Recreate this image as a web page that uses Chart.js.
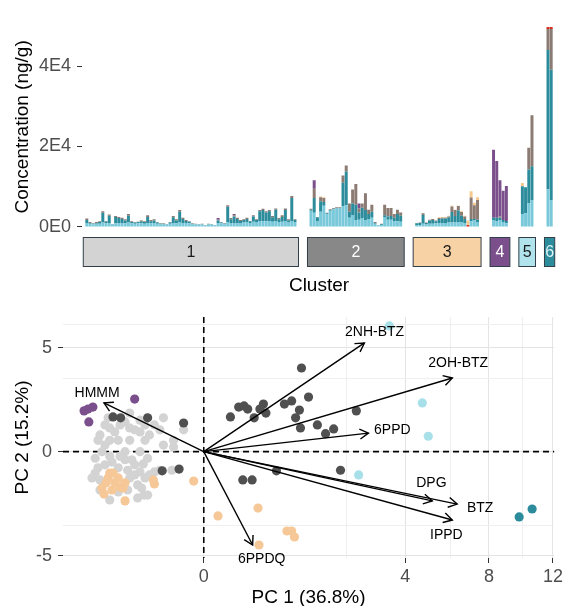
<!DOCTYPE html>
<html>
<head>
<meta charset="utf-8">
<script src="https://cdn.jsdelivr.net/npm/chart.js@4.4.1/dist/chart.umd.min.js"></script>
<style>
  body { margin: 0; background: #fff; }
  #wrap { position: relative; width: 566px; height: 606px; }
  canvas { position: absolute; left: 0; }
  #bars { top: 0; }
  #pca { top: 300px; }
</style>
</head>
<body>
<div id="wrap">
  <canvas id="bars" width="566" height="300"></canvas>
  <canvas id="pca" width="566" height="306"></canvas>
</div>
<script>
// ---- top panel: concentration per sample, stacked by compound group ----
const clusterNames = ['1', '2', '3', '4', '5', '6'];
const clusterSizes = [66, 29, 20, 5, 4, 2];

// ng/g, samples in cluster order (66 | 29 | 20 | 5 | 4 | 2)
const groupA = [
  1000,800,700,800,800,1100,900,1000,500,900, 1000,1000,900,1100,900,800,900,900,800,1000,
  900,1000,800,700,600,500,800,1000,900,1200, 1000,1000,900,700,600,500,600,300,600,500,
  300,1000,900,700,1200,1000,1000,1000,1000,1100, 1200,1000,1300,1200,1500,1500,1400,1500,1300,1500,
  1200,1300,1500,1100,1500,1200,
  4000,3500,1500,3800,5300,3200,4000,4400,4600,4600, 5200,5400,2300,3000,1700,1800,2200,1600,2000,2300,
  800,400,500,2500,1800,1800,1500,1400,1300,
  500,500,800,600,800,800,900,1000,1000,1000, 1100,1100,1100,1200,1100,1000,0,1400,1600,1200,
  1600,1500,1700,1200,900,
  3200,3400,5800,6600,
  9400,6700
];
const groupB = [
  700,200,100,200,400,2400,400,1800,100,1600, 1200,1000,700,1700,300,300,300,500,400,1500,
  500,600,300,100,200,100,300,1400,700,2600, 1000,500,400,100,100,100,100,100,100,100,
  100,600,200,100,3800,900,1600,1000,500,600, 800,400,1300,500,2400,2700,2200,2400,1100,2800,
  700,1200,2700,500,5700,500,
  300,3700,900,2600,900,200,200,100,100,100, 5800,8400,1500,2800,3800,1800,2600,2600,1200,1500,
  200,100,200,400,800,900,800,1800,1500,
  400,500,2200,400,800,900,500,1000,1100,1100, 1300,2600,1600,2900,1700,1000,0,600,400,600,
  700,800,600,500,600,
  6900,6500,8500,8500,
  34600,32400
];
const groupC = [
  400,200,100,200,200,400,200,300,0,200, 300,300,300,400,200,100,100,200,200,400,
  300,300,100,100,100,0,100,300,300,400, 300,200,100,100,100,0,100,0,100,0,
  0,200,100,100,400,300,300,300,200,200, 300,100,300,200,300,300,300,300,300,300,
  300,400,400,300,500,200,
  200,2300,100,1000,1000,100,200,200,200,200, 1800,1500,2000,3500,5200,1000,1000,4200,1100,1700,
  200,0,100,2600,2100,2000,900,1100,800,
  100,100,400,100,200,300,200,200,200,200, 200,1400,1500,1100,900,600,0,5300,3400,4900,
  0,0,300,0,0,
  0,0,5400,12700,
  5200,10100
];
const groupD = [
  0,0,0,0,0,0,0,0,0,0, 0,0,0,0,0,0,0,0,0,0,
  0,0,0,0,0,0,0,0,0,0, 0,0,0,0,0,0,0,0,0,0,
  0,400,0,0,0,0,300,0,0,0, 0,0,0,0,0,0,0,0,0,0,
  0,0,0,0,0,0,
  0,2100,0,0,0,0,0,0,0,0, 0,0,0,0,0,1200,0,0,0,0,
  0,0,0,0,0,0,0,0,0,
  0,0,0,0,0,0,0,0,0,0, 0,0,0,0,0,0,0,0,0,0,
  16900,14100,9000,7300,8700,
  0,0,0,0,
  0,0
];
const groupE = [
  0,0,0,0,0,0,0,0,0,0, 0,0,0,0,0,0,0,0,0,0,
  0,0,0,0,0,0,0,0,0,0, 0,0,0,0,0,0,0,0,0,0,
  0,0,0,0,0,0,0,0,0,0, 0,0,0,0,0,0,0,0,0,0,
  0,0,0,0,0,0,
  0,0,0,0,0,0,0,0,0,0, 0,0,0,0,0,0,0,0,0,0,
  0,0,0,0,0,0,0,0,0,
  0,0,0,0,0,0,0,0,0,0, 0,0,0,0,0,0,500,0,0,0,
  0,0,0,0,0,
  0,0,0,0,
  500,500
];
const groupF = [
  0,0,0,0,0,0,0,0,0,0, 0,0,0,0,0,0,0,100,0,0,
  0,0,0,0,0,0,0,0,0,0, 0,0,0,0,0,0,0,0,0,0,
  0,0,0,0,0,0,0,0,0,0, 0,0,0,0,0,0,0,0,0,0,
  0,0,0,0,0,0,
  0,0,0,200,200,0,0,0,0,0, 0,0,0,0,0,0,0,0,0,0,
  0,0,0,0,0,0,0,0,0,
  0,0,0,0,0,0,0,200,200,200, 200,200,100,100,200,200,1100,1600,600,700,
  0,0,0,0,0,
  800,0,0,0,
  0,0
];
const topYTicks = [0, 20000, 40000];
const topYTickLabels = ['0E0', '2E4', '4E4'];

// ---- bottom panel: PCA scores and loadings ----
const scoresC1 = [[-0.16,0.53],[-0.04,0.22],[-0.96,0.33],[-0.87,0.26],[-0.78,0.18],[-0.69,0.33],[-0.61,0.41],
  [-0.54,0.26],[-0.47,0.22],[-0.40,0.18],[-0.34,0.06],[-0.29,0.13],[-0.54,0.06],[-0.72,0.06],[-1.06,0.13],
  [-1.10,0.06],[-0.96,0.02],[-0.87,0.06],[-0.40,0.46],[-0.09,0.06],[-0.19,0.22],[-0.24,0.33],[-1.02,0.00],
  [-0.87,-0.01],[-0.69,-0.01],[-0.61,0.00],[-0.40,0.00],[-0.31,-0.02],[-0.51,-0.03],[-1.10,-0.12],[-0.96,-0.08],
  [-0.83,-0.05],[-0.72,-0.12],[-0.61,-0.03],[-0.57,-0.16],[-0.47,-0.08],[-0.40,-0.19],[-0.34,-0.32],[-1.16,-0.21],
  [-1.23,-0.32],[-1.06,-0.37],[-0.54,-0.32],[-0.47,-0.25],[-0.43,-0.51],[-0.38,-0.61],[-0.29,-0.25],[-0.24,-0.19],
  [-0.19,-0.16],[-0.10,-0.16],[-1.06,-0.68],[-0.72,-0.75],[-0.57,-0.68],[-0.35,-0.87],[-0.87,-1.08],[-0.90,0.53],
  [-0.54,0.69],[-0.34,0.33],[-0.16,0.02],[-1.16,-0.02],[-0.31,-0.87],[-0.43,-0.99],[-0.09,0.01],[-0.36,-0.07]];
const scoresC2 = [[-0.81,0.56],[-0.68,0.53],[-0.31,0.53],[-0.04,0.38],[-0.17,-0.17],[-0.06,-0.14],[0.15,-0.37],
  [0.23,-0.37],[0.07,0.56],[0.12,0.92],[0.16,0.97],[0.31,0.84],[0.35,1.05],[0.38,0.69],[0.52,-0.17],[0.94,3.24],
  [0.76,1.19],[1.08,1.38],[0.90,0.80],[0.83,0.53],[0.92,0.26],[1.46,0.15],[1.66,0.24],[2.29,0.77],[1.84,-0.16],
  [0.25,0.53],[0.64,1.05],[1.27,0.33],[0.19,0.84]];
const scoresC3 = [[-0.87,-0.21],[-0.81,-0.21],[-0.94,-0.45],[-0.78,-0.45],[-1.02,-0.61],[-0.83,-0.68],[-0.69,-0.58],
  [-0.61,-0.45],[-0.64,-0.61],[-0.61,-1.12],[-0.25,-0.37],[-0.24,-0.48],[-0.01,-0.40],[0.02,-1.91],[0.29,-1.47],
  [0.30,-4.03],[0.68,-2.91],[0.76,-2.91],[0.81,-3.37],[-0.90,-0.32],[-0.72,-0.32],[-0.98,-0.83]];
const scoresC4 = [[-1.41,0.77],[-1.32,0.84],[-1.21,0.92],[-1.30,0.41],[-0.47,1.28]];
const scoresC5 = [[3.39,7.31],[4.70,1.10],[4.96,0.11],[2.36,-0.25]];
const scoresC6 = [[9.79,-1.97],[10.61,-1.52]];

const loadingNames = ['2NH-BTZ', '2OH-BTZ', '6PPD', 'DPG', 'BTZ', 'IPPD', 'HMMM', '6PPDQ'];
const loadingPC1 = [2.54, 6.08, 2.67, 5.14, 6.32, 6.08, -0.98, 0.235];
const loadingPC2 = [5.47, 2.51, 0.16, -1.12, -1.27, -2.16, 1.10, -4.03];
const labelPC1 = [2.87, 6.37, 3.50, 5.10, 7.52, 5.79, -1.12, 0.33];
const labelPC2 = [6.63, 3.64, 0.22, -0.45, -1.47, -3.21, 1.59, -5.33];

const pcaXTicks = [0, 2, 4, 6, 8, 10, 12];
const pcaXMajor = [0, 4, 8, 12];
const pcaYTicks = [-5, -2.5, 0, 2.5, 5, 7.5];
const pcaYMajor = [-5, 0, 5];

// ---- styles ----
const groupColors = ['#79c9da', '#2c8c9b', '#8c7b73', '#7b4f8c', '#d7301f', '#f6c88d'];
const stripFill = ['#d3d3d3', '#888888', '#f6d2a4', '#7b4f8c', '#b0e3ec', '#2c8c9b'];
const stripText = ['#1a1a1a', '#ffffff', '#1a1a1a', '#ffffff', '#1a1a1a', '#dff3f6'];
const pointColors = ['#d3d3d3', '#505050', '#f6c898', '#7b4f8c', '#a8e0ea', '#2c8c9b'];
const FONT = "'Liberation Sans', Arial, sans-serif";
Chart.defaults.font.family = FONT;

// build the category table with blank slots between facets
const labels = [], rows = [], spans = [];
let k = 0;
clusterSizes.forEach((n, ci) => {
  const pad = ci === 0 ? 1 : 4;
  for (let i = 0; i < pad; i++) { labels.push(''); rows.push(null); }
  const first = labels.length;
  for (let i = 0; i < n; i++) { labels.push('S' + (k + 1)); rows.push(k); k++; }
  spans.push([first, labels.length - 1]);
});
labels.push(''); rows.push(null);

const groups = [groupA, groupB, groupC, groupD, groupE, groupF];
const barSets = groups.map((g, i) => ({
  label: 'group ' + (i + 1),
  data: rows.map(r => r === null ? null : g[r]),
  backgroundColor: groupColors[i],
  borderWidth: 0,
  barPercentage: 0.93,
  categoryPercentage: 1
}));

const stripPlugin = {
  id: 'strips',
  afterDraw(chart) {
    const { ctx, chartArea, scales: { x } } = chart;
    const u = x.getPixelForValue(1) - x.getPixelForValue(0);
    const top = chartArea.bottom + 0.5, h = 29;
    ctx.save();
    spans.forEach(([a, b], i) => {
      const l = x.getPixelForValue(a) - 1.1 * u;
      const r = x.getPixelForValue(b) + 1.1 * u;
      ctx.fillStyle = stripFill[i];
      ctx.fillRect(l, top, r - l, h);
      ctx.strokeStyle = '#333f48';
      ctx.lineWidth = 1;
      ctx.strokeRect(l, top, r - l, h);
      ctx.fillStyle = stripText[i];
      ctx.font = '16px ' + FONT;
      ctx.textAlign = 'center';
      ctx.textBaseline = 'middle';
      ctx.fillText(clusterNames[i], (l + r) / 2, top + h / 2 + 1);
    });
    ctx.restore();
  }
};

new Chart(document.getElementById('bars'), {
  type: 'bar',
  data: { labels: labels, datasets: barSets },
  options: {
    responsive: false,
    animation: false,
    layout: { padding: { top: 4, right: 10, bottom: 0, left: 0 } },
    plugins: { legend: { display: false }, tooltip: { enabled: false } },
    scales: {
      x: {
        stacked: true,
        offset: true,
        grid: { display: false },
        border: { display: false },
        ticks: { display: false },
        title: { display: true, text: 'Cluster', color: '#000', font: { size: 19 }, padding: { top: 0, bottom: 3 } },
        afterFit: s => { s.height = 63; }
      },
      y: {
        stacked: true,
        min: -2500,
        max: 52250,
        afterBuildTicks: s => { s.ticks = topYTicks.map(v => ({ value: v })); },
        ticks: { callback: (v, i) => topYTickLabels[i], color: '#4d4d4d', font: { size: 18 }, padding: 6 },
        grid: { display: true, drawOnChartArea: false, drawTicks: true, tickLength: 5, tickColor: '#333', tickWidth: 1 },
        border: { display: false },
        title: { display: true, text: 'Concentration (ng/g)', color: '#000', font: { size: 19 }, padding: { top: 11 } },
        afterFit: s => { s.width = 82; }
      }
    }
  },
  plugins: [stripPlugin]
});

// ---- signed square-root axis (ggplot-style transformed scale) ----
const ssq = v => Math.sign(v) * Math.sqrt(Math.abs(v));
class SignedSqrtScale extends Chart.LinearScale {
  determineDataLimits() {
    this.min = ssq(this.options.min);
    this.max = ssq(this.options.max);
  }
  buildTicks() {
    return this.options.ticks.values.map(v => ({ value: v }));
  }
  getPixelForValue(value) {
    return super.getPixelForValue(ssq(value));
  }
  getValueForPixel(pixel) {
    const s = super.getValueForPixel(pixel);
    return s * Math.abs(s);
  }
}
SignedSqrtScale.id = 'signedSqrt';
SignedSqrtScale.defaults = {};
Chart.register(SignedSqrtScale);

// later clusters are drawn over earlier ones, arrows over everything
const scoreSets = [scoresC1, scoresC2, scoresC3, scoresC4, scoresC5, scoresC6].map((s, i) => ({
  label: 'Cluster ' + clusterNames[i],
  data: s.map(p => ({ x: p[0], y: p[1] })),
  pointRadius: 4.6,
  pointBorderWidth: 0,
  backgroundColor: pointColors[i],
  borderColor: pointColors[i],
  order: 20 - i
}));
const arrowSets = loadingNames.map((n, i) => ({
  label: n,
  data: [{ x: 0, y: 0 }, { x: loadingPC1[i], y: loadingPC2[i] }],
  showLine: true,
  pointRadius: 0,
  borderColor: '#000',
  borderWidth: 1.4,
  order: 1
}));

const loadingPlugin = {
  id: 'loadings',
  beforeDatasetsDraw(chart) {
    const { ctx, chartArea: a, scales: { x, y } } = chart;
    const x0 = x.getPixelForValue(0), y0 = y.getPixelForValue(0);
    ctx.save();
    ctx.strokeStyle = '#000';
    ctx.lineWidth = 1.6;
    ctx.setLineDash([6, 4]);
    ctx.beginPath();
    ctx.moveTo(x0, a.top); ctx.lineTo(x0, a.bottom);
    ctx.moveTo(a.left, y0); ctx.lineTo(a.right, y0);
    ctx.stroke();
    ctx.restore();
  },
  afterDatasetsDraw(chart) {
    const { ctx, scales: { x, y } } = chart;
    const x0 = x.getPixelForValue(0), y0 = y.getPixelForValue(0);
    ctx.save();
    ctx.strokeStyle = '#000';
    ctx.lineWidth = 1.4;
    loadingNames.forEach((n, i) => {
      const px = x.getPixelForValue(loadingPC1[i]), py = y.getPixelForValue(loadingPC2[i]);
      const ang = Math.atan2(py - y0, px - x0);
      const L = 10, w = Math.PI / 6;
      ctx.beginPath();
      ctx.moveTo(px - L * Math.cos(ang - w), py - L * Math.sin(ang - w));
      ctx.lineTo(px, py);
      ctx.lineTo(px - L * Math.cos(ang + w), py - L * Math.sin(ang + w));
      ctx.stroke();
    });
    ctx.fillStyle = '#000';
    ctx.font = '14px ' + FONT;
    ctx.textAlign = 'center';
    ctx.textBaseline = 'middle';
    loadingNames.forEach((n, i) => {
      ctx.fillText(n, x.getPixelForValue(labelPC1[i]), y.getPixelForValue(labelPC2[i]));
    });
    ctx.restore();
  }
};

const gridCol = (majors) => c => (c.tick && majors.includes(c.tick.value)) ? '#e4e4e4' : '#efefef';
const tickCol = (majors) => c => (c.tick && majors.includes(c.tick.value)) ? '#333' : 'rgba(0,0,0,0)';

new Chart(document.getElementById('pca'), {
  type: 'scatter',
  data: { datasets: arrowSets.concat(scoreSets) },
  options: {
    responsive: false,
    animation: false,
    layout: { padding: { top: 17, right: 11, bottom: 0, left: 0 } },
    plugins: { legend: { display: false }, tooltip: { enabled: false } },
    scales: {
      x: {
        type: 'signedSqrt',
        min: -1.95,
        max: 12.08,
        ticks: {
          values: pcaXTicks, autoSkip: false, maxRotation: 0,
          callback: v => pcaXMajor.includes(v) ? String(v) : '',
          color: '#4d4d4d', font: { size: 18 }, padding: 3
        },
        grid: { color: gridCol(pcaXMajor), lineWidth: 1, tickLength: 5, tickColor: tickCol(pcaXMajor), tickWidth: 1 },
        border: { display: false },
        title: { display: true, text: 'PC 1 (36.8%)', color: '#000', font: { size: 19, lineHeight: 0.9 }, padding: { top: 0, bottom: 0 } },
        afterFit: s => { s.height = 48; }
      },
      y: {
        type: 'signedSqrt',
        min: -5.23,
        max: 8.39,
        ticks: {
          values: pcaYTicks, autoSkip: false,
          callback: v => pcaYMajor.includes(v) ? String(v) : '',
          color: '#4d4d4d', font: { size: 18 }, padding: 6
        },
        grid: { color: gridCol(pcaYMajor), lineWidth: 1, tickLength: 5, tickColor: tickCol(pcaYMajor), tickWidth: 1 },
        border: { display: false },
        title: { display: true, text: 'PC 2 (15.2%)', color: '#000', font: { size: 19 }, padding: { top: 11 } },
        afterFit: s => { s.height = s.height; s.width = 63; }
      }
    }
  },
  plugins: [loadingPlugin]
});
</script>
</body>
</html>
